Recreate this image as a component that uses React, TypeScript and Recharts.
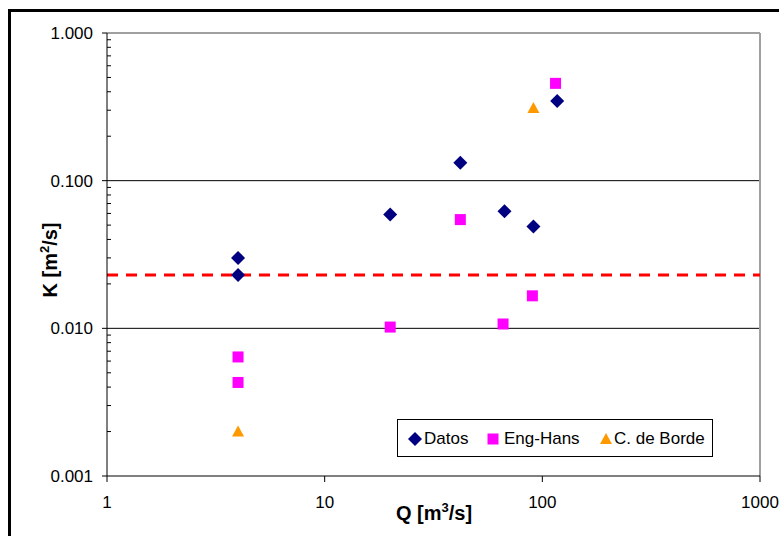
import React from "react";
import { ScatterChart, Scatter, XAxis, YAxis, ReferenceLine } from "recharts";

// values (log-log)
const datosQ = [4, 4, 20, 42, 67, 91, 117];
const datosK = [0.03, 0.023, 0.059, 0.132, 0.062, 0.049, 0.346];
const engQ = [4, 4, 20, 42, 66, 90, 115];
const engK = [0.0064, 0.0043, 0.0102, 0.0545, 0.0107, 0.0166, 0.456];
const bordeQ = [4, 91];
const bordeK = [0.002, 0.31];
const kMedio = 0.023;
const kMedioQ = [1, 1000];

const xTicks = [1, 10, 100, 1000];
const yMajor = [0.001, 0.01, 0.1, 1];
const yMinor = [2, 3, 4, 5, 6, 7, 8, 9].flatMap((m) => [m * 0.001, m * 0.01, m * 0.1]);
const yGrid = [0.01, 0.1];

const FONT = '"Liberation Sans", Arial, sans-serif';
const NAVY = "#000080";
const MAGENTA = "#FF00FF";
const ORANGE = "#FF9900";

const toPoints = (qs: number[], ks: number[]) => qs.map((q, i) => ({ q, k: ks[i] }));

const Diamond = ({ cx, cy }: any) => (
  <polygon points={`${cx},${cy - 7} ${cx + 7},${cy} ${cx},${cy + 7} ${cx - 7},${cy}`} fill={NAVY} />
);
const Square = ({ cx, cy }: any) => <rect x={cx - 5.5} y={cy - 5.5} width={11} height={11} fill={MAGENTA} />;
const Triangle = ({ cx, cy }: any) => (
  <polygon points={`${cx},${cy - 6} ${cx + 6},${cy + 5} ${cx - 6},${cy + 5}`} fill={ORANGE} />
);

function YTick(props: any) {
  const { x, y, payload } = props;
  const v = payload.value;
  if (!yMajor.includes(v)) {
    return <line x1={x} x2={x + 4} y1={y} y2={y} stroke="#000" />;
  }
  return (
    <g>
      <line x1={x - 5} x2={x} y1={y} y2={y} stroke="#000" />
      <text x={x - 14} y={y} dy="0.35em" textAnchor="end" fontSize={17} fill="#000" fontFamily={FONT}>
        {v.toFixed(3)}
      </text>
    </g>
  );
}

function LegendBox() {
  const item = (icon: React.ReactNode, label: string, iconLeft: number, textLeft: number) => (
    <>
      <svg width={16} height={16} style={{ position: "absolute", left: iconLeft - 8, top: 11 }}>
        {icon}
      </svg>
      <span style={{ position: "absolute", left: textLeft, top: 9, fontSize: 17, lineHeight: "19px" }}>{label}</span>
    </>
  );
  return (
    <div
      style={{
        position: "absolute",
        left: 397,
        top: 419,
        width: 314,
        height: 36,
        border: "1px solid #000",
        background: "#fff",
      }}
    >
      {item(<Diamond cx={8} cy={8} />, "Datos", 17, 26)}
      {item(<Square cx={8} cy={8} />, "Eng-Hans", 95, 106)}
      {item(<Triangle cx={8} cy={8} />, "C. de Borde", 208, 216)}
    </div>
  );
}

export default function App() {
  return (
    <div
      style={{
        position: "fixed",
        left: 0,
        top: 0,
        width: 779,
        height: 536,
        overflow: "hidden",
        background: "#fff",
        fontFamily: FONT,
        color: "#000",
      }}
    >
      <div
        style={{
          position: "absolute",
          left: 8,
          top: 9,
          width: 820,
          height: 600,
          border: "3px solid #000",
        }}
      />
      <div style={{ position: "absolute", left: 0, top: 0 }}>
        <ScatterChart width={779} height={536} margin={{ top: 33, right: 19, bottom: 0, left: 0 }}>
          <XAxis
            dataKey="q"
            type="number"
            scale="log"
            domain={[1, 1000]}
            ticks={xTicks}
            allowDataOverflow
            height={60}
            axisLine={{ stroke: "#000" }}
            tickLine={{ stroke: "#000" }}
            tickSize={6}
            tickMargin={14}
            tick={{ fontSize: 17, fill: "#000", fontFamily: FONT }}
            tickFormatter={(v: number) => String(v)}
          />
          <YAxis
            dataKey="k"
            type="number"
            scale="log"
            domain={[0.001, 1]}
            ticks={[...yMajor, ...yMinor]}
            allowDataOverflow
            width={107}
            axisLine={{ stroke: "#000" }}
            tickLine={false}
            tickSize={0}
            tickMargin={0}
            tick={<YTick />}
            interval={0}
          />
          {yGrid.map((v) => (
            <ReferenceLine key={v} y={v} stroke="#000" strokeWidth={1} />
          ))}
          <ReferenceLine y={1} stroke="#a0a0a0" strokeWidth={2} />
          <ReferenceLine x={1000} stroke="#a0a0a0" strokeWidth={2} />
          <Scatter name="Datos" data={toPoints(datosQ, datosK)} shape={<Diamond />} isAnimationActive={false} />
          <Scatter name="Eng-Hans" data={toPoints(engQ, engK)} shape={<Square />} isAnimationActive={false} />
          <Scatter name="C. de Borde" data={toPoints(bordeQ, bordeK)} shape={<Triangle />} isAnimationActive={false} />
          <ReferenceLine
            segment={kMedioQ.map((q) => ({ x: q, y: kMedio }))}
            stroke="#FF0000"
            strokeWidth={3}
            strokeDasharray="11 8"
          />
        </ScatterChart>
      </div>
      <LegendBox />
      <div
        style={{
          position: "absolute",
          left: 50,
          top: 260,
          transform: "translate(-50%, -50%) rotate(-90deg)",
          fontSize: 20,
          fontWeight: "bold",
          whiteSpace: "nowrap",
          lineHeight: "22px",
        }}
      >
        K [m<sup style={{ fontSize: 13, lineHeight: 0 }}>2</sup>/s]
      </div>
      <div
        style={{
          position: "absolute",
          left: 434,
          top: 513,
          transform: "translate(-50%, -50%)",
          fontSize: 20,
          fontWeight: "bold",
          whiteSpace: "nowrap",
          lineHeight: "22px",
        }}
      >
        Q [m<sup style={{ fontSize: 13, lineHeight: 0 }}>3</sup>/s]
      </div>
    </div>
  );
}
